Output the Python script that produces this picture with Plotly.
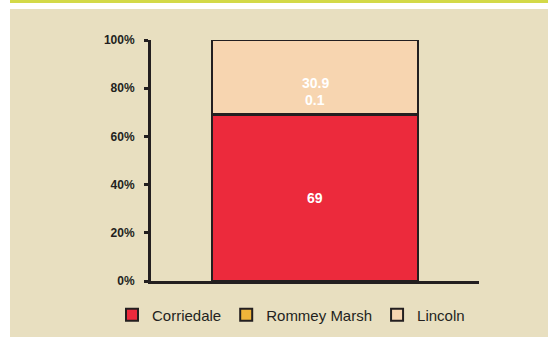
import plotly.graph_objects as go

categories = ["Sample"]
series_names = ["Corriedale", "Rommey Marsh", "Lincoln"]
series_values = [[69], [0.1], [30.9]]
series_colors = ["#ec2a3c", "#f0b43a", "#f7d5b0"]
tick_vals = [0, 20, 40, 60, 80, 100]
tick_text = ["0%", "20%", "40%", "60%", "80%", "100%"]

DARK = "#231f20"
BG = "#e8dfc0"
W, H = 548, 337
L, R, T, B = 151, 69, 40, 56
PW, PH = W - L - R, H - T - B

fig = go.Figure()
for name, vals, col in zip(series_names, series_values, series_colors):
    fig.add_trace(go.Bar(
        x=categories, y=vals, name=name,
        marker=dict(color=col, line=dict(color=DARK, width=2)),
        width=0.63,
    ))

# value labels computed from the data
annotations = []
cum = 0
label_shift = {"Corriedale": 0, "Rommey Marsh": 15, "Lincoln": -6}
for name, vals in zip(series_names, series_values):
    v = vals[0]
    annotations.append(dict(
        x=categories[0], y=cum + v / 2, text=f"<b>{v:g}</b>", showarrow=False,
        font=dict(color="white", size=14, family="Liberation Sans, Arial"),
        yshift=label_shift[name], xref="x", yref="y",
    ))
    cum += v


def px_x(p):
    return (p - L) / PW


def px_y(p):
    return (H - B - p) / PH


shapes = [
    dict(type="rect", xref="paper", yref="paper", layer="below",
         x0=px_x(10), x1=px_x(W + 5), y0=px_y(H + 5), y1=px_y(9),
         fillcolor=BG, line=dict(width=0)),
    dict(type="rect", xref="paper", yref="paper", layer="below",
         x0=px_x(10), x1=px_x(W + 5), y0=px_y(3), y1=px_y(-2),
         fillcolor="#d3d948", line=dict(width=0)),
]

fig.update_layout(
    width=W, height=H,
    margin=dict(l=L, r=R, t=T, b=B, autoexpand=False),
    paper_bgcolor="white", plot_bgcolor=BG,
    barmode="stack", bargap=0,
    showlegend=True,
    legend=dict(orientation="h", x=px_x(112), xanchor="left",
                y=px_y(315), yanchor="middle",
                font=dict(family="Liberation Sans, Arial", size=15, color=DARK),
                itemwidth=30, tracegroupgap=0, traceorder="normal",
                bgcolor="rgba(0,0,0,0)"),
    annotations=annotations,
    shapes=shapes,
    font=dict(family="Liberation Sans, Arial", color=DARK),
)
fig.update_yaxes(range=[0, 100], tickvals=tick_vals, ticktext=tick_text,
                 showgrid=False, zeroline=False, showline=True, linecolor=DARK,
                 linewidth=3, ticks="outside", ticklen=4, tickwidth=3, tickcolor=DARK,
                 tickfont=dict(family="Liberation Sans, Arial", size=12, color=DARK,
                               weight="bold"),
                 ticklabelstandoff=7, automargin=False)
fig.update_xaxes(range=[-0.5, 0.5], showticklabels=False, showgrid=False, zeroline=False,
                 showline=True, linecolor=DARK, linewidth=3, ticks="", automargin=False)

fig.write_html("out.html", config={"displayModeBar": False},
               post_script="document.body.style.margin='0';")
